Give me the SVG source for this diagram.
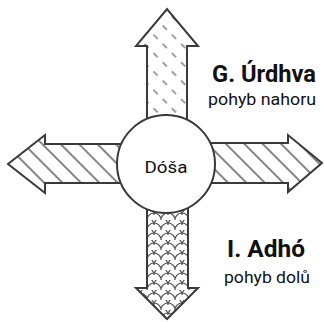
<svg xmlns="http://www.w3.org/2000/svg" width="324" height="322" viewBox="0 0 324 322">
<style>
.arrow{stroke:#3a3a3a;stroke-width:2;stroke-linejoin:miter}
.t{font-family:Roboto,"Liberation Sans",sans-serif;fill:#111}
.b{font-weight:bold}
</style>
<defs>
<pattern id="stripes" patternUnits="userSpaceOnUse" width="13" height="13" patternTransform="rotate(-45)">
<rect width="13" height="13" fill="#fff"/>
<line x1="6" y1="-1" x2="6" y2="14" stroke="#444" stroke-width="1.3"/>
</pattern>
<pattern id="dashes" patternUnits="userSpaceOnUse" width="13" height="13" patternTransform="rotate(-45)">
<rect width="13" height="13" fill="#fff"/>
<line x1="6" y1="3" x2="6" y2="9" stroke="#808080" stroke-width="1.5"/>
</pattern>
<pattern id="scales" patternUnits="userSpaceOnUse" width="14" height="10" x="147">
<rect width="14" height="10" fill="#fff"/>
<path d="M0,10 A7,7 0 0 1 14,10 M-7,5 A7,7 0 0 1 7,5 M7,5 A7,7 0 0 1 21,5" fill="none" stroke="#555" stroke-width="1.2"/>
</pattern>
</defs>
<g id="connectors">
<path id="up" class="arrow" fill="url(#dashes)" d="M147,125 L147,46 L136,46 L167,9 L198,46 L187,46 L187,125 Z"/>
<path id="down" class="arrow" fill="url(#scales)" d="M147,200 L147,288 L136,288 L167,319 L198,288 L188,288 L188,200 Z"/>
<path id="left" class="arrow" fill="url(#stripes)" d="M125,144 L45,144 L45,135 L8,164 L45,193 L45,183 L125,183 Z"/>
<path id="right" class="arrow" fill="url(#stripes)" d="M205,143 L288,143 L288,135 L322,163 L288,192 L288,183 L205,183 Z"/>
</g>
<g id="dosa">
<circle cx="166" cy="164" r="49" fill="#fff" stroke="#3a3a3a" stroke-width="2"/>
<text class="t" x="166" y="173" font-size="16" text-anchor="middle" textLength="43" lengthAdjust="spacingAndGlyphs">Dóša</text>
</g>
<g id="urdhva">
<text class="t b" x="212" y="82" font-size="24" textLength="104" lengthAdjust="spacingAndGlyphs">G. Úrdhva</text>
<text class="t" x="208" y="105" font-size="17" textLength="108" lengthAdjust="spacingAndGlyphs">pohyb nahoru</text>
</g>
<g id="adho">
<text class="t b" x="227" y="257" font-size="24" textLength="78" lengthAdjust="spacingAndGlyphs">I. Adhó</text>
<text class="t" x="224" y="283" font-size="17" textLength="86" lengthAdjust="spacingAndGlyphs">pohyb dolů</text>
</g>
</svg>
